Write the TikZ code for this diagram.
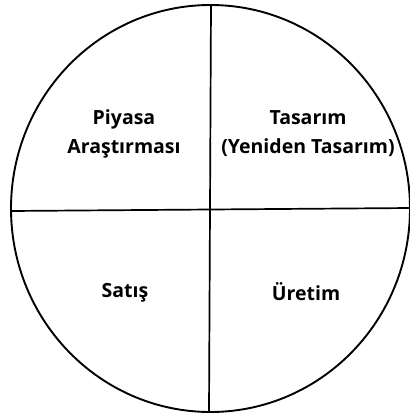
\documentclass[tikz,border=0pt]{standalone}
\usepackage{fontspec}
\setmainfont{Open Sans}
\begin{document}
\begin{tikzpicture}[x=1pt,y=-1pt,
  rim/.style={line width=1.9pt},
  divider/.style={line width=1.7pt},
  lbl/.style={font=\bfseries\fontsize{19.5}{29}\selectfont, align=center, inner sep=0pt}]
\useasboundingbox (0,0) rectangle (409,414);
\draw[rim] (210.5,208.5) ellipse [x radius=199.5, y radius=203.5];
\coordinate (top) at (211,5);
\coordinate (bot) at (209,412);
\coordinate (lft) at (11,211);
\coordinate (rgt) at (411,208);
\draw[divider] (top) -- (bot);
\draw[divider] (lft) -- (rgt);
\node[lbl] (pa) at (124,134) {Piyasa\\Araştırması};
\node[lbl] (ta) at (308,134) {Tasarım\\(Yeniden Tasarım)};
\node[lbl] (sa) at (125,293) {Satış};
\node[lbl] (ur) at (306,292) {Üretim};
\end{tikzpicture}
\end{document}
